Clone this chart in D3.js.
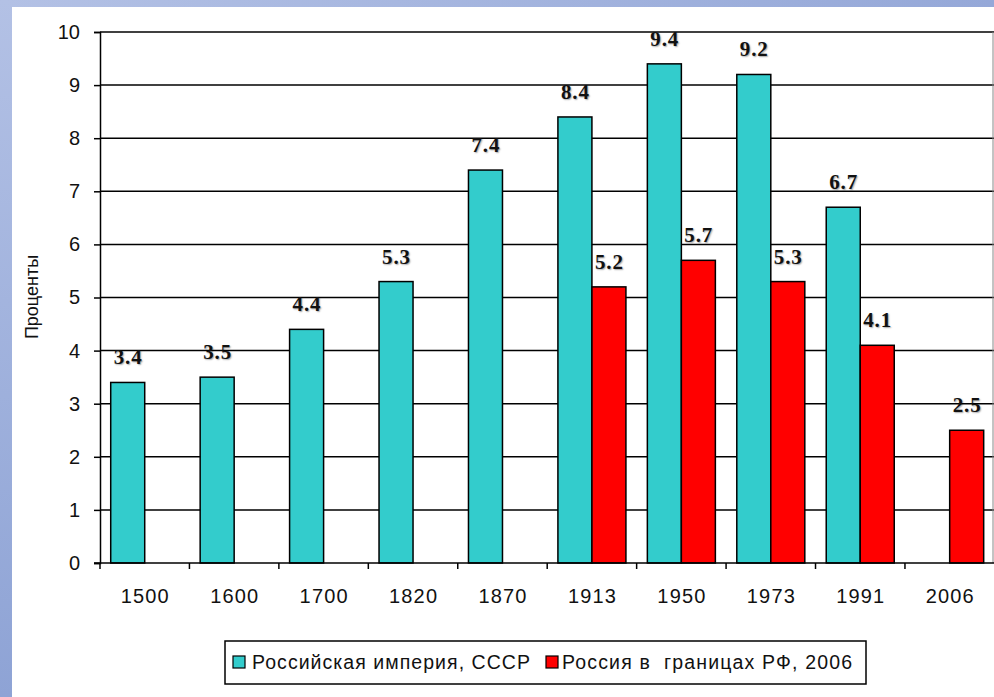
<!DOCTYPE html>
<html>
<head>
<meta charset="utf-8">
<script src="https://cdn.jsdelivr.net/npm/d3@7"></script>
<style>
  html, body { margin: 0; padding: 0; background: #fff; }
  svg { display: block; }
</style>
</head>
<body>
<svg id="chart" width="994" height="697"></svg>
<script>
const categories = ["1500", "1600", "1700", "1820", "1870", "1913", "1950", "1973", "1991", "2006"];
const empireValues = [3.4, 3.5, 4.4, 5.3, 7.4, 8.4, 9.4, 9.2, 6.7, null];
const russiaValues = [null, null, null, null, null, 5.2, 5.7, 5.3, 4.1, 2.5];
const yTickValues = [0, 1, 2, 3, 4, 5, 6, 7, 8, 9, 10];
const seriesNames = ["Российская империя, СССР", "Россия в  границах РФ, 2006"];
const seriesColors = ["#33CCCC", "#FF0000"];
const yAxisTitle = "Проценты";

const svg = d3.select("#chart");
const SANS = "'Liberation Sans', Arial, sans-serif";

// Background frame (blue gradient border)
const defs = svg.append("defs");
const gLeft = defs.append("linearGradient").attr("id", "gl").attr("x1", 0).attr("y1", 0).attr("x2", 0).attr("y2", 1);
gLeft.append("stop").attr("offset", "0%").attr("stop-color", "#b3c1e5");
gLeft.append("stop").attr("offset", "100%").attr("stop-color", "#8ea3d5");
const gTop = defs.append("linearGradient").attr("id", "gt").attr("x1", 0).attr("y1", 0).attr("x2", 1).attr("y2", 0);
gTop.append("stop").attr("offset", "0%").attr("stop-color", "#b3c1e5");
gTop.append("stop").attr("offset", "100%").attr("stop-color", "#95a8d8");
svg.append("rect").attr("x", 0).attr("y", 0).attr("width", 994).attr("height", 7).attr("fill", "url(#gt)");
svg.append("rect").attr("x", 0).attr("y", 0).attr("width", 12).attr("height", 697).attr("fill", "url(#gl)");

const plotLeft = 100, plotRight = 994.4, plotTop = 32, plotBottom = 563;

const x0 = d3.scaleBand().domain(categories).range([plotLeft, plotRight]).paddingInner(0).paddingOuter(0);
const x1 = d3.scaleBand().domain([0, 1]).range([0, x0.bandwidth()]).paddingInner(0).paddingOuter(0.315);
const y = d3.scaleLinear().domain([0, 10]).range([plotBottom, plotTop]);

// Gridlines
svg.append("g").selectAll("line").data(yTickValues.filter(d => d > 0)).join("line")
  .attr("x1", plotLeft).attr("x2", plotRight)
  .attr("y1", d => y(d)).attr("y2", d => y(d))
  .attr("stroke", "#000").attr("stroke-width", 1.5);

// right border of plot area
svg.append("line").attr("x1", 993).attr("x2", 993).attr("y1", plotTop).attr("y2", plotBottom)
  .attr("stroke", "#888").attr("stroke-width", 1);

// Bars
const series = [empireValues, russiaValues];
const barG = svg.append("g");
series.forEach((vals, si) => {
  barG.selectAll(".b" + si)
    .data(categories.map((c, i) => ({ c, v: vals[i] })).filter(d => d.v != null))
    .join("rect")
    .attr("x", d => x0(d.c) + x1(si))
    .attr("width", x1.bandwidth())
    .attr("y", d => y(d.v))
    .attr("height", d => y(0) - y(d.v))
    .attr("fill", seriesColors[si])
    .attr("stroke", "#000").attr("stroke-width", 1.5);
});

// Data labels
series.forEach((vals, si) => {
  svg.append("g").selectAll("text")
    .data(categories.map((c, i) => ({ c, v: vals[i] })).filter(d => d.v != null))
    .join("text")
    .attr("x", d => x0(d.c) + x1(si) + x1.bandwidth() / 2 - 14)
    .attr("y", d => y(d.v) - 18)
    .attr("font-family", "'Liberation Serif', 'Times New Roman', serif")
    .attr("font-weight", "bold")
    .attr("font-size", 21)
    .attr("textLength", 28)
    .attr("lengthAdjust", "spacing")
    .attr("fill", "#111")
    .style("text-shadow", "1px 1px 1.5px rgba(0,0,0,0.35)")
    .text(d => d.v.toFixed(1));
});

// Y axis
const yAxis = d3.axisLeft(y).tickValues(yTickValues).tickSize(6).tickPadding(14).tickFormat(d3.format("d"));
const yg = svg.append("g").attr("transform", `translate(${plotLeft},0)`).call(yAxis);
yg.attr("font-size", null).attr("font-family", null);
yg.select(".domain").attr("stroke", "#000").attr("stroke-width", 1.5);
yg.selectAll(".tick line").attr("stroke", "#000").attr("stroke-width", 1.5);
yg.selectAll(".tick text").attr("font-family", SANS).attr("font-size", 20).attr("fill", "#111");

// X axis
const xg = svg.append("g").attr("transform", `translate(0,${plotBottom})`);
xg.append("line").attr("x1", plotLeft - 6).attr("x2", plotRight).attr("y1", 0).attr("y2", 0)
  .attr("stroke", "#000").attr("stroke-width", 1.5);
xg.selectAll(".xt").data(categories).join("line")
  .attr("x1", d => x0(d)).attr("x2", d => x0(d)).attr("y1", 0).attr("y2", 6)
  .attr("stroke", "#000").attr("stroke-width", 1.5);
xg.selectAll("text").data(categories).join("text")
  .attr("x", d => x0(d) + x0.bandwidth() / 2 - 24)
  .attr("y", 39.5)
  .attr("font-family", SANS)
  .attr("font-size", 20).attr("fill", "#111")
  .attr("textLength", 48).attr("lengthAdjust", "spacing")
  .text(d => d);

// Y axis title
svg.append("text")
  .attr("transform", "translate(38,297) rotate(-90)")
  .attr("text-anchor", "middle")
  .attr("font-family", SANS)
  .attr("font-size", 18).attr("fill", "#111")
  .text(yAxisTitle);

// Legend
const lg = svg.append("g");
lg.append("rect").attr("x", 225).attr("y", 641).attr("width", 641).attr("height", 43)
  .attr("fill", "#fff").attr("stroke", "#000").attr("stroke-width", 1.5);
const legendX = [233, 546];
const legendTextX = [252, 562];
const legendTextW = [278, 290];
seriesNames.forEach((name, i) => {
  lg.append("rect").attr("x", legendX[i]).attr("y", 656).attr("width", 12).attr("height", 12)
    .attr("fill", seriesColors[i]).attr("stroke", "#000").attr("stroke-width", 1.2);
  lg.append("text").attr("x", legendTextX[i]).attr("y", 669)
    .attr("font-family", SANS)
    .attr("font-size", 19.5).attr("fill", "#111")
    .attr("xml:space", "preserve")
    .style("white-space", "pre")
    .attr("textLength", legendTextW[i]).attr("lengthAdjust", "spacing")
    .text(name);
});
</script>
</body>
</html>
